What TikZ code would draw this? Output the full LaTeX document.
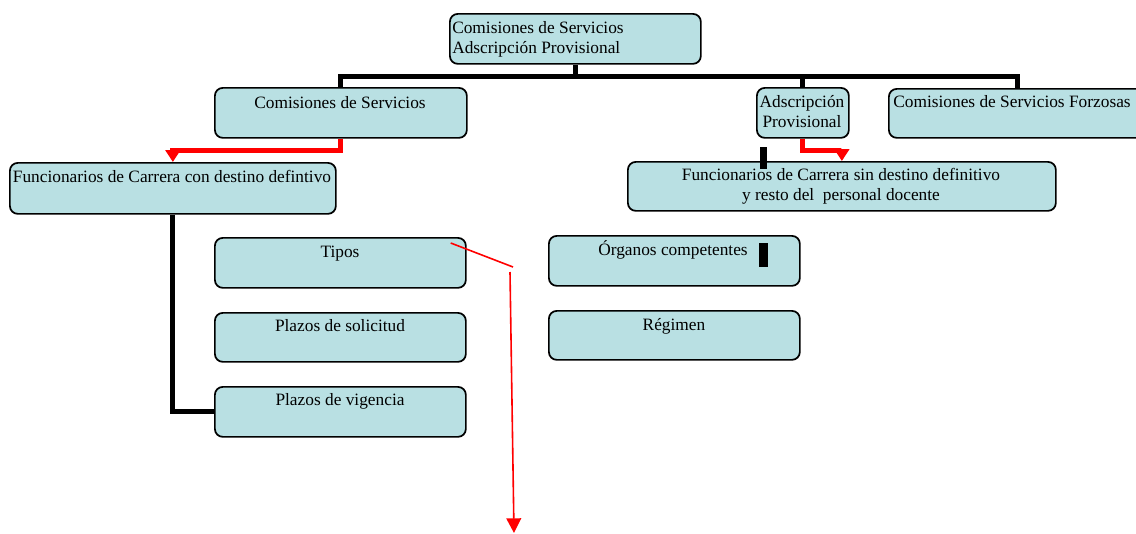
\documentclass[tikz,border=0pt]{standalone}
\usepackage{fontspec}
\setmainfont{Liberation Serif}
\usetikzlibrary{arrows.meta}
\definecolor{boxfill}{RGB}{185,224,227}
\newcommand\pxu{0.75pt}
\begin{document}
\begin{tikzpicture}[x=0.75pt,y=-0.75pt,
  box/.style={draw=black, line width=1.3pt, rounded corners=6pt, fill=boxfill, anchor=north west, inner sep=0pt},
  txt/.style={anchor=base, inner sep=0pt, font=\fontsize{13}{15}\selectfont, align=center},
  conn/.style={draw=black, line width=3.75pt},
  rconn/.style={draw=red, line width=3.75pt, -{Triangle[width=11pt,length=9pt]}},
  thinred/.style={draw=red, line width=1.2pt}
]
\useasboundingbox (0,0) rectangle (1136,533);
% boxes
\node[box, minimum width=251*\pxu, minimum height=50*\pxu] (top) at (449,13) {};
\node[box, minimum width=252*\pxu, minimum height=50*\pxu] (cs) at (214,87) {};
\node[box, minimum width=92*\pxu, minimum height=50*\pxu] (ad) at (756,87) {};
\node[box, minimum width=257*\pxu, minimum height=49*\pxu] (fz) at (888,88) {};
\node[box, minimum width=326*\pxu, minimum height=51*\pxu] (fc) at (9,162) {};
\node[box, minimum width=428*\pxu, minimum height=49*\pxu] (fs) at (627,161) {};
\node[box, minimum width=251*\pxu, minimum height=50*\pxu] (tp) at (214,237) {};
\node[box, minimum width=251*\pxu, minimum height=49*\pxu] (ps) at (214,312) {};
\node[box, minimum width=251*\pxu, minimum height=50*\pxu] (pv) at (214,386) {};
\node[box, minimum width=251*\pxu, minimum height=50*\pxu] (og) at (548,235) {};
\node[box, minimum width=251*\pxu, minimum height=49*\pxu] (rg) at (548,310) {};
% texts (multi-line: base = last line)
\node[txt, align=left, anchor=base west] (topt) at (452,53) {Comisiones de Servicios\\Adscripción Provisional};
\node[txt] (cst) at (340,108) {Comisiones de Servicios};
\node[txt] (adt) at (802,127) {Adscripción\\Provisional};
\node[txt] (fzt) at (1012,107) {Comisiones de Servicios Forzosas};
\node[txt] (fct) at (172,182) {Funcionarios de Carrera con destino defintivo};
\node[txt] (fst) at (841,200) {Funcionarios de Carrera sin destino definitivo\\y resto del~~personal docente};
\node[txt] (tpt) at (340,257) {Tipos};
\node[txt] (pst) at (340,331) {Plazos de solicitud};
\node[txt] (pvt) at (340,405) {Plazos de vigencia};
\node[txt] (ogt) at (673,255) {Órganos competentes};
\node[txt] (rgt) at (674,330) {Régimen};
% small black marks
\fill[black] (759,243) rectangle (768,267);
\fill[black] (760,147) rectangle (767,169);
% black connectors
\draw[conn] (top.south) -- ++(0,12) coordinate (hub);
\draw[conn] (cs.north) |- (hub) -| (fz.north);
\draw[conn] (hub) -| (ad.north);
\draw[conn] (fc.south) |- (pv.west);
% red connectors
\draw[rconn] (cs.south) -- ++(0,12) -| (fc.north);
\draw[rconn] (ad.south) -- ++(0,12) -| (fs.north);
\coordinate (r1) at ([shift={(-16,6)}]tp.north east);
\coordinate (r2) at (513,267);
\coordinate (r3) at (510,272);
\coordinate (r4) at (514,533);
\draw[thinred] (r1) -- (r2);
\draw[thinred, -{Triangle[width=11pt,length=11pt]}] (r3) -- (r4);
\end{tikzpicture}
\end{document}
